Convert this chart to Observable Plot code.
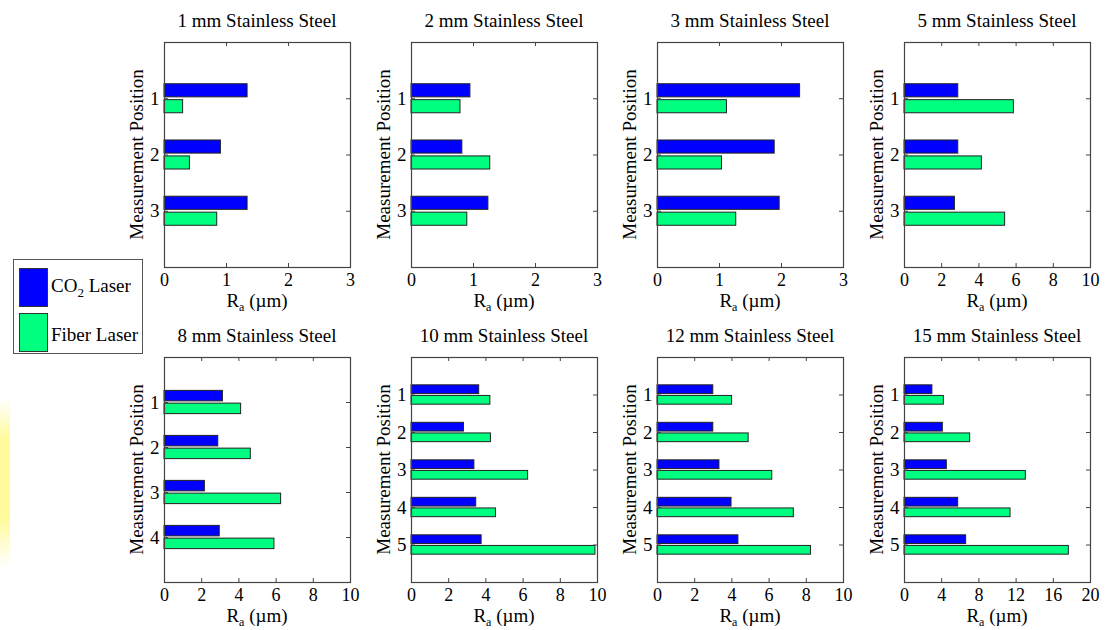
<!DOCTYPE html>
<html>
<head>
<meta charset="utf-8">
<script src="https://cdn.jsdelivr.net/npm/d3@7"></script>
<script src="https://cdn.jsdelivr.net/npm/@observablehq/plot@0.6"></script>
<style>
  body { margin: 0; background: #fff; font-family: "Liberation Serif", "Times New Roman", serif; }
  #root { position: relative; width: 1109px; height: 630px; overflow: hidden; background: #fff; }
  .panel { position: absolute; }
  .stripe { position: absolute; left: 0; top: 398px; width: 10px; height: 170px;
    background: linear-gradient(to bottom, rgba(255,250,150,0) 0%, rgba(255,250,150,0.95) 25%, rgba(255,250,150,0.95) 70%, rgba(255,250,150,0) 100%); }
  .legend { position: absolute; left: 13px; top: 259px; width: 130px; height: 95px; box-sizing: border-box;
    border: 1px solid #555; background: #fff; font-size: 19px; color: #000; }
  .legend .sw { position: absolute; left: 5px; width: 29px; height: 39px; box-sizing: border-box; border: 1px solid #333; }
  .legend .lab { position: absolute; left: 37px; white-space: nowrap; line-height: 1; }
  .legend sub { font-size: 13px; vertical-align: -5px; }
</style>
</head>
<body>
<div id="root"><div class="stripe"></div></div>
<script>
// ---- data ----
const thickness = [1, 2, 3, 5, 8, 10, 12, 15];
const seriesNames = ["CO2 Laser", "Fiber Laser"];
const seriesColors = ["#0000ff", "#00ff80"];
const co2 = [
  [1.34, 0.91, 1.34],
  [0.95, 0.82, 1.24],
  [2.30, 1.89, 1.97],
  [2.89, 2.89, 2.71],
  [3.14, 2.89, 2.17, 2.97],
  [3.64, 2.82, 3.38, 3.48, 3.77],
  [3.00, 3.00, 3.33, 3.98, 4.35],
  [3.00, 4.12, 4.55, 5.77, 6.63]
];
const fiber = [
  [0.30, 0.41, 0.85],
  [0.79, 1.27, 0.90],
  [1.12, 1.04, 1.27],
  [5.88, 4.16, 5.41],
  [4.12, 4.64, 6.27, 5.91],
  [4.24, 4.27, 6.27, 4.54, 9.89],
  [4.01, 4.90, 6.17, 7.33, 8.25],
  [4.23, 7.06, 13.05, 11.40, 17.67]
];
const xMax = [3, 3, 3, 10, 10, 10, 10, 20];
const xStep = [1, 1, 1, 2, 2, 2, 2, 4];

// ---- layout ----
const FONT = '"Liberation Serif", "Times New Roman", serif';
const plotLefts = [164, 411, 657, 904];
const rowTops = [0, 315];
const ML = 60, MR = 18, MT = 42, MB = 48, PW = 186, PH = 225;
const W = ML + PW + MR, H = MT + PH + MB;
const tickLen = 4;
const axisColor = "#444";

const root = document.getElementById("root");

thickness.forEach((t, i) => {
  const n = co2[i].length;
  const rows = [];
  for (let p = 0; p < n; p++) {
    rows.push({pos: p + 1, v: co2[i][p], s: 0});
    rows.push({pos: p + 1, v: fiber[i][p], s: 1});
  }
  const xt = d3.range(0, xMax[i] + 1e-9, xStep[i]);
  const yt = d3.range(1, n + 1);
  const plot = Plot.plot({
    width: W, height: H,
    marginLeft: ML, marginRight: MR, marginTop: MT, marginBottom: MB,
    style: {background: "transparent", fontFamily: FONT, fontSize: "19px", color: "#000", overflow: "visible"},
    x: {domain: [0, xMax[i]], label: null},
    y: {domain: [0, n + 1], reverse: true, label: null},
    marks: [
      Plot.rect(rows, {
        x1: () => 0, x2: "v",
        y1: d => d.pos + (d.s === 0 ? -0.258 : 0.025),
        y2: d => d.pos + (d.s === 0 ? -0.025 : 0.258),
        fill: d => seriesColors[d.s], stroke: "#222", strokeWidth: 1
      }),
      Plot.ruleX(xt, {x: d => d, insetTop: PH - tickLen, stroke: axisColor}),
      Plot.ruleX(xt, {x: d => d, insetBottom: PH - tickLen, stroke: axisColor}),
      Plot.ruleY(yt, {y: d => d, insetRight: PW - tickLen, stroke: axisColor}),
      Plot.ruleY(yt, {y: d => d, insetLeft: PW - tickLen, stroke: axisColor}),
      Plot.axisX(xt, {anchor: "bottom", tickSize: 0, tickPadding: 6, label: null, fontSize: 18, tickFormat: d => String(d)}),
      Plot.axisY(yt, {anchor: "left", tickSize: 0, tickPadding: 5, label: null, fontSize: 19, tickFormat: d => String(d)}),
      Plot.frame({stroke: axisColor, strokeWidth: 1.2})
    ]
  });
  const row = i < 4 ? 0 : 1, col = i % 4;
  plot.classList.add("panel");
  plot.style.left = (plotLefts[col] - ML) + "px";
  plot.style.top = rowTops[row] + "px";
  plot.style.width = W + "px";
  plot.style.height = H + "px";
  plot.style.maxWidth = "none";

  const svg = d3.select(plot);
  const cx = ML + PW / 2;
  svg.append("text")
    .attr("x", cx).attr("y", 27)
    .attr("text-anchor", "middle").attr("font-size", 19).attr("font-family", FONT).attr("fill", "#000")
    .text(`${t} mm Stainless Steel`);
  const xl = svg.append("text")
    .attr("x", cx).attr("y", 307)
    .attr("text-anchor", "middle").attr("font-size", 19).attr("font-family", FONT).attr("fill", "#000");
  xl.append("tspan").text("R");
  xl.append("tspan").attr("font-size", 12).attr("dy", 4).text("a");
  xl.append("tspan").attr("dy", -4).text(" (\u00b5m)");
  svg.append("text")
    .attr("transform", `translate(${ML - 21},${MT + PH / 2}) rotate(-90)`)
    .attr("text-anchor", "middle").attr("font-size", 19).attr("font-family", FONT).attr("fill", "#000")
    .text("Measurement Position");
  root.appendChild(plot);
});

// ---- legend ----
const legend = document.createElement("div");
legend.className = "legend";
const swTops = [8, 53];
const labTops = [16, 65];
seriesNames.forEach((name, k) => {
  const sw = document.createElement("div");
  sw.className = "sw";
  sw.style.top = swTops[k] + "px";
  sw.style.background = seriesColors[k];
  legend.appendChild(sw);
  const lab = document.createElement("div");
  lab.className = "lab";
  lab.style.top = labTops[k] + "px";
  if (name.startsWith("CO2")) {
    lab.innerHTML = "CO<sub>2</sub>" + name.slice(3);
  } else {
    lab.textContent = name;
  }
  legend.appendChild(lab);
});
root.appendChild(legend);
</script>
</body>
</html>
